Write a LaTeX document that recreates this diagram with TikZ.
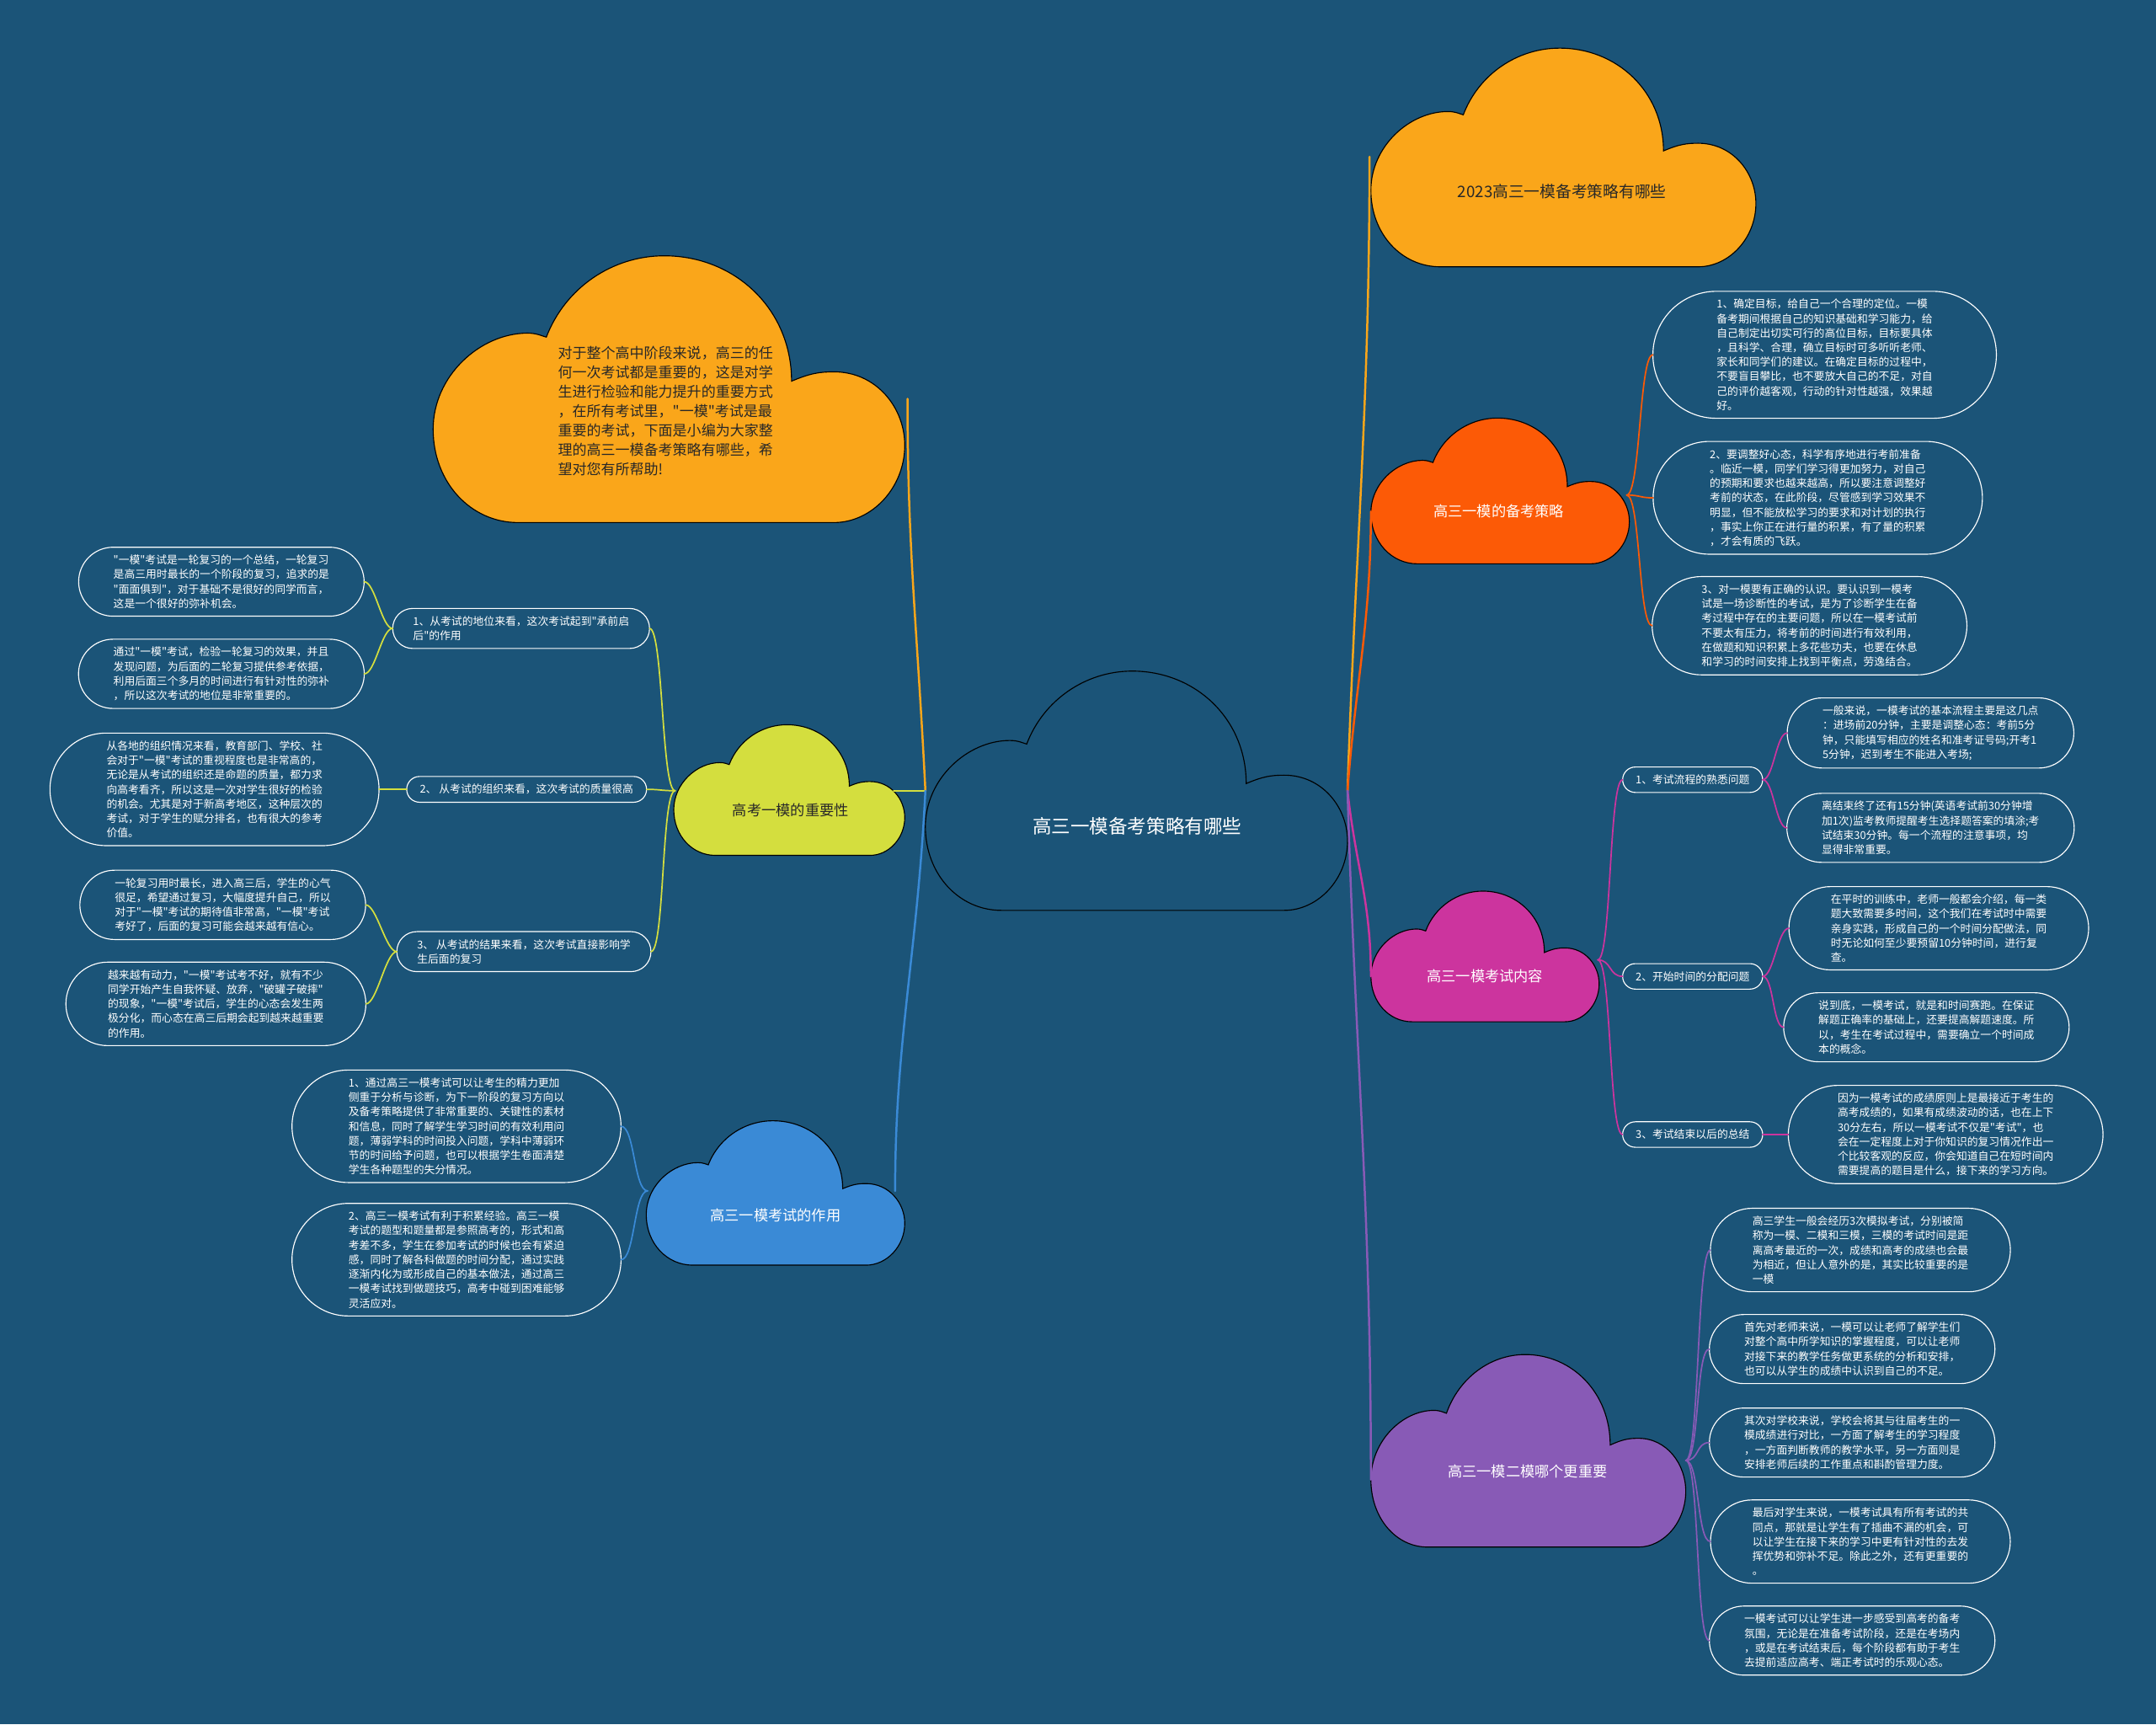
\documentclass[tikz,border=0pt]{standalone}
\usepackage{fontspec}
\setmainfont{Noto Sans CJK SC}[Ligatures=TeXOff]
\usepackage{tikz}
\usetikzlibrary{calc}

\definecolor{bgblue}{RGB}{27,84,120}
\definecolor{cgold}{RGB}{250,166,26}
\definecolor{cred}{RGB}{252,90,6}
\definecolor{clime}{RGB}{212,222,62}
\definecolor{csky}{RGB}{58,138,214}
\definecolor{cpink}{RGB}{204,52,158}
\definecolor{cviolet}{RGB}{136,90,182}
\definecolor{cdark}{RGB}{40,40,40}

\tikzset{
  cloudline/.style={draw=black, line width=0.6pt},
  leaf/.style={rectangle, inner xsep=0pt, inner ysep=4.6pt, text=white, align=left,
    font=\fontsize{6.7}{9}\selectfont},
  leafline/.style={draw=white, line width=0.6pt},
  topic/.style={font=\fontsize{9}{11}\selectfont},
  branch/.style={line width=1.3pt, line cap=round},
  twig/.style={line width=0.9pt, line cap=round}
}

% cloud: left, top, width, height, fill
\newcommand{\mmcloud}[5]{%
  \draw[cloudline, fill=#5, shift={(#1,#2)}, xscale=#3, yscale=#4]
    (0.18,1) .. controls (0.08,1) and (0,0.85) .. (0,0.65)
    .. controls (0,0.45) and (0.1,0.29) .. (0.2,0.29)
    .. controls (0.22,0.29) and (0.23,0.30) .. (0.24,0.305)
    .. controls (0.28,0.12) and (0.38,0) .. (0.49,0)
    .. controls (0.64,0) and (0.76,0.2) .. (0.76,0.47)
    .. controls (0.8,0.44) and (0.82,0.435) .. (0.85,0.435)
    .. controls (0.94,0.435) and (1,0.57) .. (1,0.71)
    .. controls (1,0.87) and (0.93,1) .. (0.85,1) -- cycle;}

\begin{document}
\begin{tikzpicture}[x=0.03cm, y=-0.03cm]
  \fill[bgblue] (0,0) rectangle (1568,1254);
  \useasboundingbox (0,0) rectangle (1568,1254);

  % clouds
  \mmcloud{673}{488}{307}{174}{bgblue}
  \mmcloud{315}{186}{343}{194}{cgold}
  \mmcloud{997}{35}{280}{159}{cgold}
  \mmcloud{997}{304}{188}{106}{cred}
  \mmcloud{997}{648}{166}{95}{cpink}
  \mmcloud{997}{985}{229}{140}{cviolet}
  \mmcloud{490}{527}{168}{95}{clime}
  \mmcloud{470}{815}{188}{105}{csky}

  \node[text=white, font=\fontsize{11.8}{14}\selectfont] (root) at (827,601) {高三一模备考策略有哪些};
  \node[text=cdark, align=left, font=\fontsize{8.9}{12}\selectfont] (intro) at (484,299)
    {对于整个高中阶段来说，高三的任\\何一次考试都是重要的，这是对学\\生进行检验和能力提升的重要方式\\，在所有考试里，"一模"考试是最\\重要的考试，下面是小编为大家整\\理的高三一模备考策略有哪些，希\\望对您有所帮助!};
  \node[topic, text=cdark, font=\fontsize{9.8}{12}\selectfont] (t2023) at (1136,139) {2023高三一模备考策略有哪些};
  \node[topic, text=white] (tplan) at (1090,372) {高三一模的备考策略};
  \node[topic, text=white] (tcontent) at (1080,710) {高三一模考试内容};
  \node[topic, text=white] (tcompare) at (1111,1070) {高三一模二模哪个更重要};
  \node[topic, text=cdark] (tvalue) at (575,589) {高考一模的重要性};
  \node[topic, text=white] (trole) at (564,884) {高三一模考试的作用};

  % junctions
  \coordinate (mL) at (673,575);
  \coordinate (mR) at (980,575);
  \coordinate (introE) at (660,290);
  \coordinate (valueE) at (650,575);
  \coordinate (roleE) at (651,866);
  \coordinate (t2023W) at (996,114);
  \coordinate (planW) at (997,372);
  \coordinate (contentW) at (997,710);
  \coordinate (compareW) at (997,1076);
  \coordinate (planE) at (1183,360);
  \coordinate (contentE) at (1162,698);
  \coordinate (compareE) at (1226,1062);
  \coordinate (valueW) at (491,575);
  \coordinate (roleW) at (471,866);

  % right leaves
  \node[leaf] (plan1) at (1327,258)
    {1、确定目标，给自己一个合理的定位。一模\\备考期间根据自己的知识基础和学习能力，给\\自己制定出切实可行的高位目标，目标要具体\\，且科学、合理，确立目标时可多听听老师、\\家长和同学们的建议。在确定目标的过程中，\\不要盲目攀比，也不要放大自己的不足，对自\\己的评价越客观，行动的针对性越强，效果越\\好。};
  \node[leaf] (plan2) at (1322,362)
    {2、要调整好心态，科学有序地进行考前准备\\。临近一模，同学们学习得更加努力，对自己\\的预期和要求也越来越高，所以要注意调整好\\考前的状态，在此阶段，尽管感到学习效果不\\明显，但不能放松学习的要求和对计划的执行\\，事实上你正在进行量的积累，有了量的积累\\，才会有质的飞跃。};
  \node[leaf] (plan3) at (1316,455)
    {3、对一模要有正确的认识。要认识到一模考\\试是一场诊断性的考试，是为了诊断学生在备\\考过程中存在的主要问题，所以在一模考试前\\不要太有压力，将考前的时间进行有效利用，\\在做题和知识积累上多花些功夫，也要在休息\\和学习的时间安排上找到平衡点，劳逸结合。};

  \node[leaf] (cont1) at (1231,567) {1、考试流程的熟悉问题};
  \node[leaf] (cont2) at (1231,710) {2、开始时间的分配问题};
  \node[leaf] (cont3) at (1231,825) {3、考试结束以后的总结};
  \node[leaf] (cont1a) at (1404,533)
    {一般来说，一模考试的基本流程主要是这几点\\：进场前20分钟，主要是调整心态：考前5分\\钟，只能填写相应的姓名和准考证号码;开考1\\5分钟，迟到考生不能进入考场;};
  \node[leaf] (cont1b) at (1404,602)
    {离结束终了还有15分钟(英语考试前30分钟增\\加1次)监考教师提醒考生选择题答案的填涂;考\\试结束30分钟。每一个流程的注意事项，均\\显得非常重要。};
  \node[leaf] (cont2a) at (1410,675)
    {在平时的训练中，老师一般都会介绍，每一类\\题大致需要多时间，这个我们在考试时中需要\\亲身实践，形成自己的一个时间分配做法，同\\时无论如何至少要预留10分钟时间，进行复\\查。};
  \node[leaf] (cont2b) at (1401,747)
    {说到底，一模考试，就是和时间赛跑。在保证\\解题正确率的基础上，还要提高解题速度。所\\以，考生在考试过程中，需要确立一个时间成\\本的概念。};
  \node[leaf] (cont3a) at (1415,825)
    {因为一模考试的成绩原则上是最接近于考生的\\高考成绩的，如果有成绩波动的话，也在上下\\30分左右，所以一模考试不仅是"考试"，也\\会在一定程度上对于你知识的复习情况作出一\\个比较客观的反应，你会知道自己在短时间内\\需要提高的题目是什么，接下来的学习方向。};

  \node[leaf] (comp1) at (1353,909)
    {高三学生一般会经历3次模拟考试，分别被简\\称为一模、二模和三模，三模的考试时间是距\\离高考最近的一次，成绩和高考的成绩也会最\\为相近，但让人意外的是，其实比较重要的是\\一模};
  \node[leaf] (comp2) at (1347,981)
    {首先对老师来说，一模可以让老师了解学生们\\对整个高中所学知识的掌握程度，可以让老师\\对接下来的教学任务做更系统的分析和安排，\\也可以从学生的成绩中认识到自己的不足。};
  \node[leaf] (comp3) at (1347,1049)
    {其次对学校来说，学校会将其与往届考生的一\\模成绩进行对比，一方面了解考生的学习程度\\，一方面判断教师的教学水平，另一方面则是\\安排老师后续的工作重点和斟酌管理力度。};
  \node[leaf] (comp4) at (1353,1121)
    {最后对学生来说，一模考试具有所有考试的共\\同点，那就是让学生有了插曲不漏的机会，可\\以让学生在接下来的学习中更有针对性的去发\\挥优势和弥补不足。除此之外，还有更重要的\\。};
  \node[leaf] (comp5) at (1347,1193)
    {一模考试可以让学生进一步感受到高考的备考\\氛围，无论是在准备考试阶段，还是在考场内\\，或是在考试结束后，每个阶段都有助于考生\\去提前适应高考、端正考试时的乐观心态。};

  % left leaves
  \node[leaf] (val1) at (379,457) {1、从考试的地位来看，这次考试起到"承前启\\后"的作用};
  \node[leaf] (val2) at (383,574) {2、 从考试的组织来看，这次考试的质量很高};
  \node[leaf] (val3) at (381,692) {3、 从考试的结果来看，这次考试直接影响学\\生后面的复习};
  \node[leaf] (val1a) at (161,423)
    {"一模"考试是一轮复习的一个总结，一轮复习\\是高三用时最长的一个阶段的复习，追求的是\\"面面俱到"，对于基础不是很好的同学而言，\\这是一个很好的弥补机会。};
  \node[leaf] (val1b) at (161,490)
    {通过"一模"考试，检验一轮复习的效果，并且\\发现问题，为后面的二轮复习提供参考依据，\\利用后面三个多月的时间进行有针对性的弥补\\，所以这次考试的地位是非常重要的。};
  \node[leaf] (val2a) at (156,574)
    {从各地的组织情况来看，教育部门、学校、社\\会对于"一模"考试的重视程度也是非常高的，\\无论是从考试的组织还是命题的质量，都力求\\向高考看齐，所以这是一次对学生很好的检验\\的机会。尤其是对于新高考地区，这种层次的\\考试，对于学生的赋分排名，也有很大的参考\\价值。};
  \node[leaf] (val3a) at (162,658)
    {一轮复习用时最长，进入高三后，学生的心气\\很足，希望通过复习，大幅度提升自己，所以\\对于"一模"考试的期待值非常高，"一模"考试\\考好了，后面的复习可能会越来越有信心。};
  \node[leaf] (val3b) at (157,730)
    {越来越有动力，"一模"考试考不好，就有不少\\同学开始产生自我怀疑、放弃，"破罐子破摔"\\的现象，"一模"考试后，学生的心态会发生两\\极分化，而心态在高三后期会起到越来越重要\\的作用。};

  \node[leaf] (role1) at (332,819)
    {1、通过高三一模考试可以让考生的精力更加\\侧重于分析与诊断，为下一阶段的复习方向以\\及备考策略提供了非常重要的、关键性的素材\\和信息，同时了解学生学习时间的有效利用问\\题，薄弱学科的时间投入问题，学科中薄弱环\\节的时间给予问题，也可以根据学生卷面清楚\\学生各种题型的失分情况。};
  \node[leaf] (role2) at (332,916)
    {2、高三一模考试有利于积累经验。高三一模\\考试的题型和题量都是参照高考的，形式和高\\考差不多，学生在参加考试的时候也会有紧迫\\感，同时了解各科做题的时间分配，通过实践\\逐渐内化为或形成自己的基本做法，通过高三\\一模考试找到做题技巧，高考中碰到困难能够\\灵活应对。};

  % round outlines of the leaves
  \foreach \q in {plan1,plan2,plan3,cont1,cont2,cont3,cont1a,cont1b,cont2a,cont2b,cont3a,
                  comp1,comp2,comp3,comp4,comp5,val1,val2,val3,val1a,val1b,val2a,val3a,val3b,
                  role1,role2}
    \draw[leafline] let \p1=(\q.north west), \p2=(\q.south east), \n1={(\y1-\y2)/2} in
      [rounded corners=\n1] ({\x1-\n1},\y1) rectangle ({\x2+\n1},\y2)
      ({\x1-\n1},{(\y1+\y2)/2}) coordinate (\q-w)
      ({\x2+\n1},{(\y1+\y2)/2}) coordinate (\q-e);

  % main branches
  \draw[branch, cgold] (mL) .. controls +(-6,-120) and +(0,110) .. (introE);
  \draw[branch, clime] (mL) -- (valueE);
  \draw[branch, csky] (mL) .. controls +(-6,120) and +(0,-110) .. (roleE);
  \draw[branch, cgold] (mR) .. controls +(6,-180) and +(0,180) .. (t2023W);
  \draw[branch, cred] (mR) .. controls +(6,-80) and +(0,80) .. (planW);
  \draw[branch, cpink] (mR) .. controls +(6,55) and +(0,-55) .. (contentW);
  \draw[branch, cviolet] (mR) .. controls +(6,200) and +(0,-200) .. (compareW);

  % twigs
  \foreach \t in {plan1,plan2,plan3}
    \draw[twig, cred] (planE) .. controls +(10,0) and +(-10,0) .. (\t-w);
  \foreach \t in {cont1,cont2,cont3}
    \draw[twig, cpink] (contentE) .. controls +(10,0) and +(-10,0) .. (\t-w);
  \draw[twig, cpink] (cont1-e) .. controls +(8,0) and +(-8,0) .. (cont1a-w);
  \draw[twig, cpink] (cont1-e) .. controls +(8,0) and +(-8,0) .. (cont1b-w);
  \draw[twig, cpink] (cont2-e) .. controls +(8,0) and +(-8,0) .. (cont2a-w);
  \draw[twig, cpink] (cont2-e) .. controls +(8,0) and +(-8,0) .. (cont2b-w);
  \draw[twig, cpink] (cont3-e) -- (cont3a-w);
  \foreach \t in {comp1,comp2,comp3,comp4,comp5}
    \draw[twig, cviolet] (compareE) .. controls +(10,0) and +(-10,0) .. (\t-w);
  \foreach \t in {val1,val2,val3}
    \draw[twig, clime] (valueW) .. controls +(-10,0) and +(10,0) .. (\t-e);
  \draw[twig, clime] (val1-w) .. controls +(-8,0) and +(8,0) .. (val1a-e);
  \draw[twig, clime] (val1-w) .. controls +(-8,0) and +(8,0) .. (val1b-e);
  \draw[twig, clime] (val2-w) -- (val2a-e);
  \draw[twig, clime] (val3-w) .. controls +(-8,0) and +(8,0) .. (val3a-e);
  \draw[twig, clime] (val3-w) .. controls +(-8,0) and +(8,0) .. (val3b-e);
  \foreach \t in {role1,role2}
    \draw[twig, csky] (roleW) .. controls +(-10,0) and +(10,0) .. (\t-e);
\end{tikzpicture}
\end{document}
